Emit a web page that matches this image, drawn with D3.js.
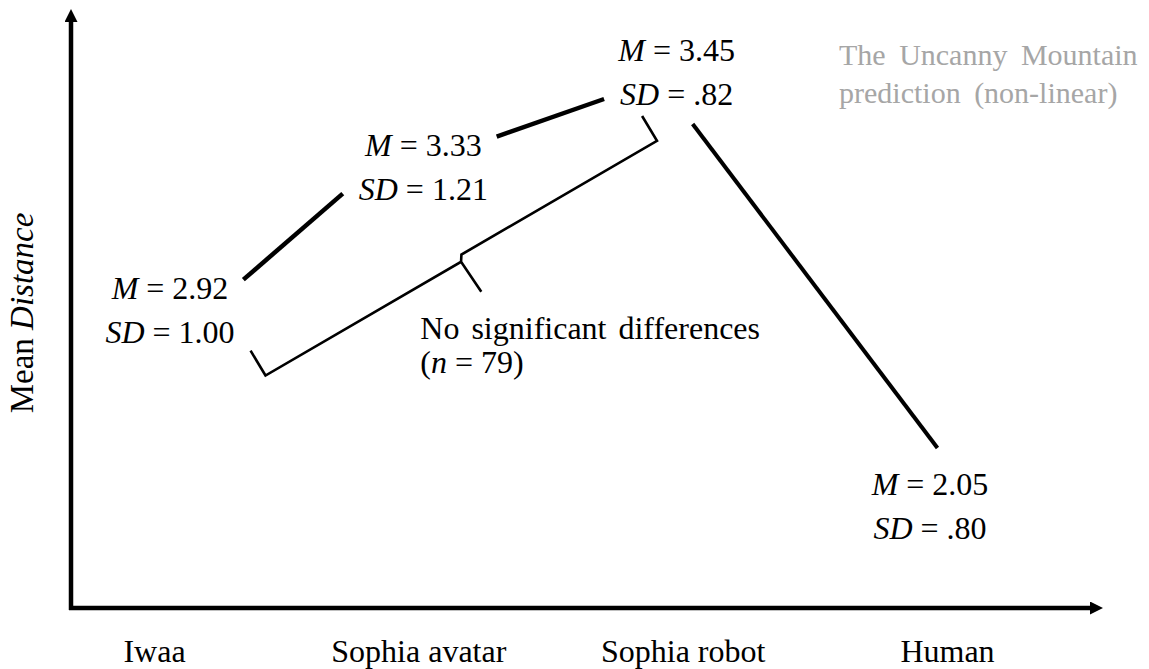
<!DOCTYPE html>
<html>
<head>
<meta charset="utf-8">
<script src="https://cdn.jsdelivr.net/npm/d3@7"></script>
<style>
	body { margin: 0; background: #fff; }
</style>
</head>
<body>
<div id="chart"></div>
<script>

// values
var categories = ["Iwaa", "Sophia avatar", "Sophia robot", "Human"];
var means = [2.92, 3.33, 3.45, 2.05];
var sds = [1.00, 1.21, 0.82, 0.80];
var sampleN = 79;
var groupedCats = ["Iwaa", "Sophia robot"];   // bracket runs from first to last of these
var noteLines = ["The Uncanny Mountain", "prediction (non-linear)"];
var yLabel = ["Mean ", "Distance"];

var width = 1149,
	height = 669;
var origin = {x: 71, y: 608};
var serif = "Liberation Serif, Times New Roman, Times, serif";
var fontSize = 32,
	lineGap = 44;

var svg = d3.select("#chart").append("svg")
			.attr("width", width)
			.attr("height", height)
			.attr("font-family", serif)

var x = d3.scalePoint()
			.domain(categories)
			.range([154, 947])

// label blocks sit slightly off the tick centres
var xBlock = d3.scalePoint()
			.domain(categories)
			.range([170, 930])

// schematic y: drop below the peak mean, compressed
var peak = d3.max(means);
var y = d3.scalePow()
			.exponent(0.62)
			.domain([0, peak - d3.min(means)])
			.range([61, 495])

function fmt(v){
	var s = d3.format(".2f")(v);
	return v < 1 ? s.replace(/^0/, "") : s;
}

// arrow head
svg.append("defs").append("marker")
	.attr("id", "arrow")
	.attr("markerUnits", "userSpaceOnUse")
	.attr("viewBox", "0 0 13 13")
	.attr("markerWidth", 13)
	.attr("markerHeight", 13)
	.attr("refX", 1)
	.attr("refY", 6.5)
	.attr("orient", "auto")
	.append("path")
	.attr("d", "M0,0L13,6.5L0,13Z")
	.attr("fill", "#000")

// axes
svg.append("line")
	.attr("x1", origin.x).attr("y1", origin.y + 2)
	.attr("x2", origin.x).attr("y2", 21)
	.attr("stroke", "#000").attr("stroke-width", 4.5)
	.attr("marker-end", "url(#arrow)")

svg.append("line")
	.attr("x1", origin.x - 2).attr("y1", origin.y)
	.attr("x2", 1091).attr("y2", origin.y)
	.attr("stroke", "#000").attr("stroke-width", 4.5)
	.attr("marker-end", "url(#arrow)")

var xAxis = svg.append("g")
	.attr("transform", "translate(0," + origin.y + ")")
	.call(d3.axisBottom(x).tickSize(0).tickPadding(31))
xAxis.attr("font-family", serif).attr("font-size", fontSize)
xAxis.select(".domain").remove()
xAxis.selectAll("text").attr("fill", "#000")

var yl = svg.append("text")
	.attr("transform", "translate(33," + 313 + ") rotate(-90)")
	.attr("text-anchor", "middle")
	.attr("font-size", 33)
yl.append("tspan").text(yLabel[0])
yl.append("tspan").attr("font-style", "italic").text(yLabel[1])

// M / SD label blocks
var mBoxes = [], sdBoxes = [], base = [];
categories.forEach(function(c, i){
	var bx = xBlock(c);
	var by = y(peak - means[i]);
	base.push(by);

	var mt = svg.append("text")
		.attr("x", bx).attr("y", by)
		.attr("text-anchor", "middle")
		.attr("font-size", fontSize)
	mt.append("tspan").attr("font-style", "italic").text("M")
	mt.append("tspan").text(" = " + fmt(means[i]))

	var st = svg.append("text")
		.attr("x", bx).attr("y", by + lineGap)
		.attr("text-anchor", "middle")
		.attr("font-size", fontSize)
	st.append("tspan").attr("font-style", "italic").text("SD")
	st.append("tspan").text(" = " + fmt(sds[i]))

	mBoxes.push(mt.node().getBBox());
	sdBoxes.push(st.node().getBBox());
});

// connecting segments between neighbouring blocks
var segs = [];
for(var i = 0; i < means.length - 1; i++){
	var m = mBoxes[i], s = sdBoxes[i], m2 = mBoxes[i+1], s2 = sdBoxes[i+1];
	if(means[i+1] >= means[i]){
		segs.push({
			x1: m.x + m.width + 15, y1: base[i] - 19,
			x2: s2.x - 16, y2: base[i+1] + lineGap - 6, w: 4.5
		});
	} else {
		segs.push({
			x1: s.x + s.width / 2 + 16, y1: base[i] + lineGap + 19,
			x2: m2.x + m2.width / 2 + 8, y2: base[i+1] - 47, w: 4
		});
	}
}

svg.selectAll("line.seg")
	.data(segs).enter()
	.append("line")
	.attr("class", "seg")
	.attr("x1", function(d){return d.x1})
	.attr("y1", function(d){return d.y1})
	.attr("x2", function(d){return d.x2})
	.attr("y2", function(d){return d.y2})
	.attr("stroke", "#000")
	.attr("stroke-width", function(d){return d.w})

// bracket under the first three conditions
var ia = categories.indexOf(groupedCats[0]),
	ib = categories.indexOf(groupedCats[1]);
var e1 = [sdBoxes[ia].x + sdBoxes[ia].width + 16, base[ia] + lineGap + 8];
var e2 = [sdBoxes[ib].x + 22, base[ib] + lineGap + 11];
var dx = e2[0] - e1[0], dy = e2[1] - e1[1], len = Math.sqrt(dx*dx + dy*dy);
var u = [dx/len, dy/len], n = [-u[1], u[0]];
var arm = 29, tail = 39;
var c1 = [e1[0] + arm*n[0], e1[1] + arm*n[1]];
var c2 = [e2[0] + arm*n[0], e2[1] + arm*n[1]];
var mid = [(c1[0] + c2[0]) / 2, (c1[1] + c2[1]) / 2];
var tip = [mid[0] + tail*n[0], mid[1] + tail*n[1]];

var p = d3.path();
p.moveTo(e1[0], e1[1]);
p.lineTo(c1[0], c1[1]);
p.lineTo(mid[0] - 2*u[0] + 3*n[0], mid[1] - 2*u[1] + 3*n[1]);
p.lineTo(tip[0], tip[1]);
p.moveTo(mid[0] - 2*u[0] + 3*n[0], mid[1] - 2*u[1] + 3*n[1]);
p.lineTo(mid[0] + 2*u[0] - 3*n[0], mid[1] + 2*u[1] - 3*n[1]);
p.lineTo(c2[0], c2[1]);
p.lineTo(e2[0], e2[1]);

svg.append("path")
	.attr("d", p.toString())
	.attr("fill", "none")
	.attr("stroke", "#000")
	.attr("stroke-width", 2.6)
	.attr("stroke-linejoin", "miter")

svg.append("text")
	.attr("x", tip[0] - 61).attr("y", tip[1] + 47)
	.attr("font-size", fontSize)
	.attr("word-spacing", 4)
	.text("No significant differences")

var nt = svg.append("text")
	.attr("x", tip[0] - 61).attr("y", tip[1] + 81)
	.attr("font-size", fontSize)
nt.append("tspan").text("(")
nt.append("tspan").attr("font-style", "italic").text("n")
nt.append("tspan").text(" = " + sampleN + ")")

// grey annotation, top right
svg.selectAll("text.note")
	.data(noteLines).enter()
	.append("text")
	.attr("class", "note")
	.attr("x", 839)
	.attr("y", function(d, i){return 65 + i*38})
	.attr("font-size", 30)
	.attr("word-spacing", 6)
	.attr("fill", "#a6a6a6")
	.text(function(d){return d})

</script>
</body>
</html>
